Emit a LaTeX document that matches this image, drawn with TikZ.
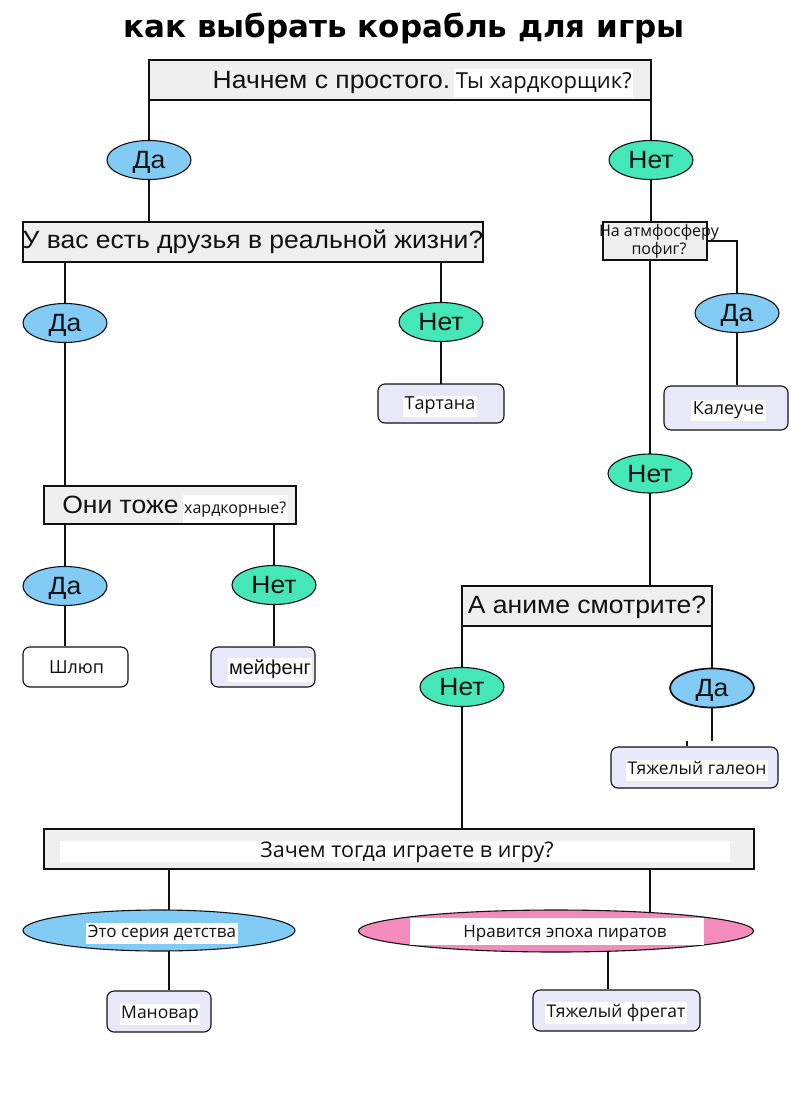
\documentclass[tikz,border=0pt]{standalone}
\usepackage{fontspec}
\setmainfont{Liberation Sans}
\newfontfamily\ar{Liberation Sans}[FakeStretch=1.06]
\newfontfamily\os{Open Sans}
\newfontfamily\tf{DejaVu Sans}
\usetikzlibrary{shapes.geometric,backgrounds}
\definecolor{boxgray}{HTML}{EFEFEF}
\definecolor{yescol}{HTML}{82CBF5}
\definecolor{nocol}{HTML}{45E6B8}
\definecolor{pinkcol}{HTML}{F38BBC}
\definecolor{leafcol}{HTML}{E8E8F8}
\definecolor{ink}{HTML}{111111}
\newcommand{\wb}[1]{{\setlength{\fboxsep}{1.5pt}\colorbox{white}{\strut #1}}}
\tikzset{
  qbox/.style={draw=ink, line width=1.1pt, fill=boxgray, inner sep=0pt},
  yesel/.style={ellipse, draw=ink, line width=1.1pt, fill=yescol, inner sep=0pt, minimum width=84pt, minimum height=39pt, font=\ar\fontsize{25}{25}\selectfont, text=ink, text height=17.9pt, text depth=0pt},
  noel/.style={yesel, fill=nocol},
  leaf/.style={draw=ink, line width=1.1pt, fill=leafcol, rounded corners=7pt, inner sep=0pt},
  big/.style={font=\ar\fontsize{25}{25}\selectfont, text=ink, inner sep=0pt, text height=17.9pt, text depth=0pt},
  small/.style={font=\os\fontsize{18}{18}\selectfont, text=ink, inner sep=0pt, text height=12.9pt, text depth=0pt},
  conn/.style={draw=ink, line width=1.1pt}
}
\begin{document}
\begin{tikzpicture}[x=1pt,y=-1pt]
\useasboundingbox (0,0) rectangle (791,1118);
% title
\node[font=\tf\bfseries\fontsize{31}{31}\selectfont, text=black, inner sep=0pt, text height=22.6pt, text depth=0pt] (title) at (404,26.5) {как выбрать корабль для игры};
% box 1
\node[qbox, minimum width=502pt, minimum height=40pt] (b1) at (400,80) {};
\node[big] (b1t) at (423,79.5) {Начнем с простого.\,\wb{\os\fontsize{22}{22}\selectfont Ты хардкорщик?}};
\node[yesel] (y1) at (149,160) {Да};
\node[noel] (n1) at (651,160) {Нет};
% box 2
\node[qbox, minimum width=460pt, minimum height=40pt] (b2) at (253,242) {};
\node[big] (b2t) at (253,240) {У вас есть друзья в реальной жизни?};
% box 3
\node[qbox, minimum width=104pt, minimum height=38pt] (b3) at (655,241) {};
\node[font=\os\fontsize{16}{18}\selectfont, text=ink, align=center, inner sep=0pt] (b3t) at (659,241) {На атмфосферу\\пофиг?};
\node[yesel] (y2) at (65,323) {Да};
\node[noel] (n2) at (441,322) {Нет};
\node[yesel] (y3) at (737,313) {Да};
\node[leaf, minimum width=126pt, minimum height=39pt] (tartana) at (441,403.5) {};
\node[small] (tartanat) at (440,403.5) {\wb{Тартана}};
\node[leaf, minimum width=124pt, minimum height=44pt] (kaleuche) at (726,408) {};
\node[small] (kaleuchet) at (728.5,408) {\wb{Калеуче}};
\node[noel] (n3) at (650,473.5) {Нет};
% box Они тоже
\node[qbox, minimum width=252pt, minimum height=38pt] (b4) at (170,505) {};
\node[big] (b4t) at (175,505) {Они тоже\,\wb{\os\fontsize{16}{16}\selectfont хардкорные?}};
\node[yesel] (y4) at (65,586) {Да};
\node[noel] (n4) at (274,585) {Нет};
\node[leaf, fill=white, minimum width=105pt, minimum height=40pt] (shlup) at (75.5,667) {};
\node[small] (shlupt) at (76.5,667) {\wb{Шлюп}};
\node[leaf, minimum width=104pt, minimum height=40pt] (meifeng) at (263,667) {};
\node[big, font=\fontsize{20}{20}\selectfont, text height=14.3pt] (meifengt) at (270,667) {\wb{мейфенг}};
% anime box
\node[qbox, minimum width=250pt, minimum height=40pt] (b5) at (587,606) {};
\node[big] (b5t) at (587,605) {А аниме смотрите?};
\node[noel] (n5) at (462,687) {Нет};
\node[yesel, line width=1.7pt] (y5) at (712,688) {Да};
\node[leaf, minimum width=167pt, minimum height=41pt] (galeon) at (694.5,767.5) {};
\node[small, font=\os\fontsize{17.5}{17.5}\selectfont] (galeont) at (697,768) {\wb{Тяжелый галеон}};
% why box
\node[qbox, minimum width=710pt, minimum height=40pt] (b6) at (399,849) {};
\node[fill=white, minimum width=670pt, minimum height=21pt, inner sep=0pt] (b6w) at (395,851.5) {};
\node[small, font=\os\fontsize{21.5}{21.5}\selectfont, text height=15.4pt] (b6t) at (407,850) {Зачем тогда играете в игру?};
\node[ellipse, draw=ink, line width=1.1pt, fill=yescol, minimum width=272pt, minimum height=41pt, inner sep=0pt] (child) at (159,930.5) {};
\node[small, font=\os\fontsize{17}{17}\selectfont, text height=12.1pt] (childt) at (162,931) {\wb{Это серия детства}};
\node[ellipse, draw=ink, line width=1.1pt, fill=pinkcol, minimum width=395pt, minimum height=42pt, inner sep=0pt] (pirate) at (556,931) {};
\node[fill=white, minimum width=294pt, minimum height=27pt, inner sep=0pt] (piratew) at (557,931.5) {};
\node[small, font=\os\fontsize{17}{17}\selectfont, text height=12.1pt] (piratet) at (565,931) {Нравится эпоха пиратов};
\node[leaf, minimum width=104pt, minimum height=41pt] (manovar) at (159,1011.5) {};
\node[small, font=\os\fontsize{17.5}{17.5}\selectfont, text height=12.5pt] (manovart) at (160,1012) {\wb{Мановар}};
\node[leaf, minimum width=167pt, minimum height=41pt] (fregat) at (616.5,1010.5) {};
\node[small, font=\os\fontsize{17.5}{17.5}\selectfont, text height=12.5pt] (fregatt) at (616,1011) {\wb{Тяжелый фрегат}};
% connectors
\begin{pgfonlayer}{background}
\draw[conn] (y1.center |- b1.south) -- (y1.center) -- (y1.center |- b2.north);
\draw[conn] (n1.center |- b1.south) -- (n1.center) -- (n1.center |- b3.north);
\draw[conn] (y2.center |- b2.south) -- (y2.center) -- (y2.center |- b4.north);
\draw[conn] (n2.center |- b2.south) -- (n2.center) -- (tartana.center);
\draw[conn] (b3.east) -| (y3.center) -- (y3.center |- kaleuche.north);
\draw[conn] (n3.center |- b3.south) -- (n3.center) -- (n3.center |- b5.north);
\draw[conn] (y4.center |- b4.south) -- (y4.center) -- (y4.center |- shlup.north);
\draw[conn] (n4.center |- b4.south) -- (n4.center) -- (n4.center |- meifeng.north);
\draw[conn] (n5.center |- b5.south) -- (n5.center) -- (n5.center |- b6.north);
\draw[conn] (y5.center |- b5.south) -- (y5.center) -- ([yshift=5pt]y5.center |- galeon.north);
\draw[conn] ([xshift=-25pt,yshift=5pt]y5.center |- galeon.north) -- ([xshift=-25pt]y5.center |- galeon.north);
\draw[conn] ([xshift=10pt]child.center |- b6.south) -- ([xshift=10pt]child.center) -- ([xshift=10pt]child.center |- manovar.north);
\draw[conn] ([xshift=94pt]pirate.center |- b6.south) -- ([xshift=94pt]pirate.center);
\draw[conn] ([xshift=52pt]pirate.center) -- ([xshift=52pt]pirate.center |- fregat.north);
\end{pgfonlayer}
\end{tikzpicture}
\end{document}
